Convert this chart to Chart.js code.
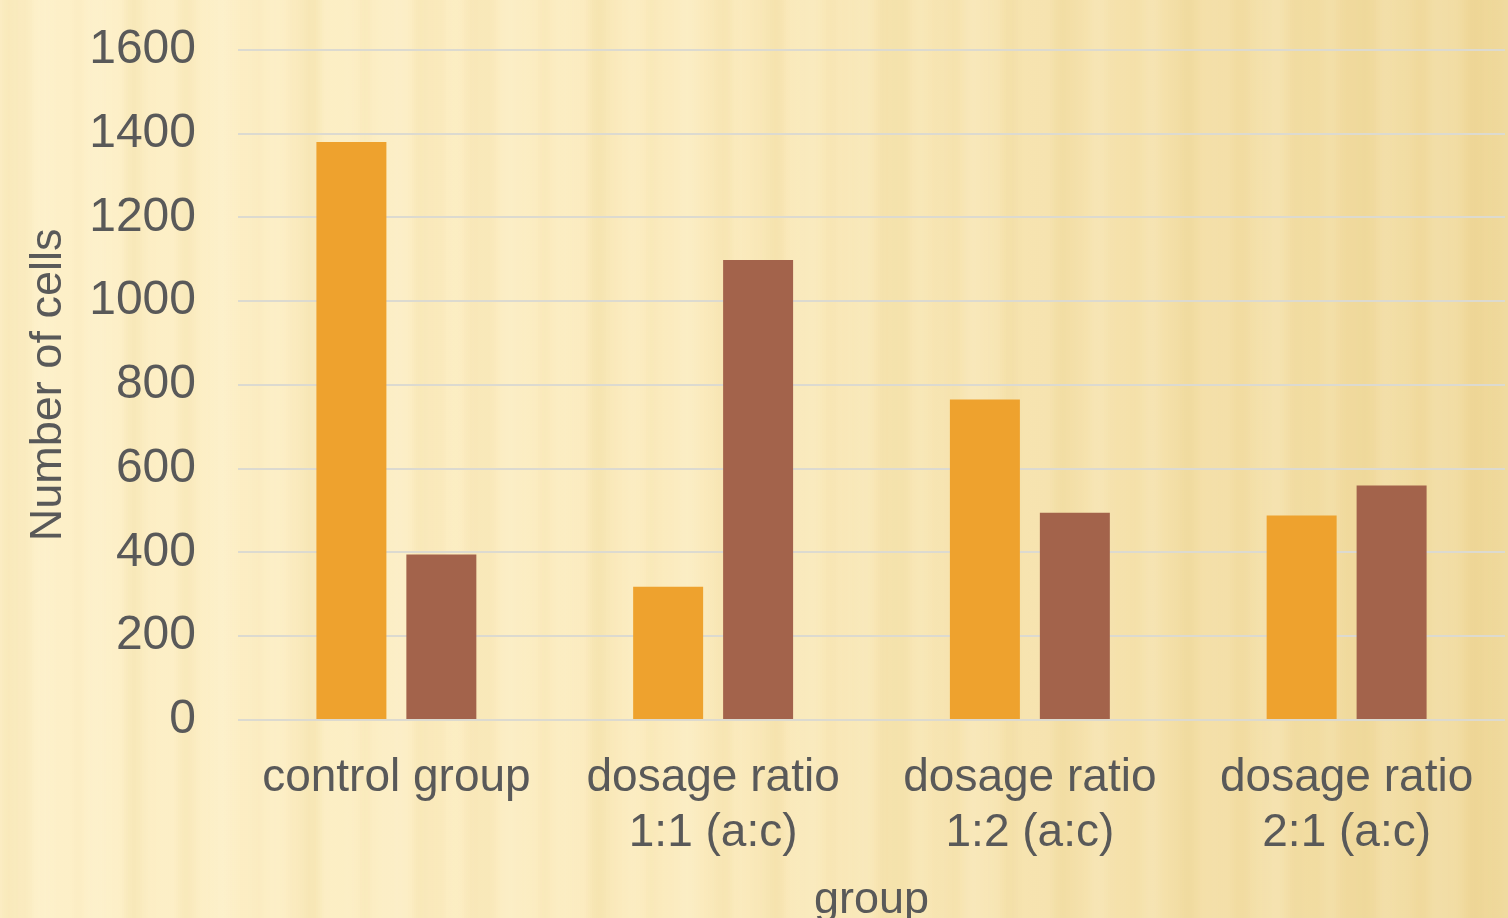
<!DOCTYPE html>
<html>
<head>
<meta charset="utf-8">
<script src="https://cdn.jsdelivr.net/npm/chart.js@4.4.1/dist/chart.umd.min.js"></script>
<style>
  html, body { margin: 0; padding: 0; background: #f8e8b8; }
  #wrap { width: 1508px; height: 918px; overflow: hidden; position: relative; }
  canvas { display: block; margin-top: -21px; }
</style>
</head>
<body>
<div id="wrap"><canvas id="chart" width="1508" height="949"></canvas></div>
<script>
// Chart data
const groups = [
  'control group',
  ['dosage ratio', '1:1 (a:c)'],
  ['dosage ratio', '1:2 (a:c)'],
  ['dosage ratio', '2:1 (a:c)']
];
const seriesA = [1380, 318, 765, 488];
const seriesB = [395, 1098, 495, 560];
const yTicks = [0, 200, 400, 600, 800, 1000, 1200, 1400, 1600];

const textColor = '#595959';
const fontFamily = "'Liberation Sans', Arial, sans-serif";

// Striped paper background
const stripedBackground = {
  id: 'stripedBackground',
  beforeDraw(chart) {
    const ctx = chart.ctx;
    const w = chart.width, h = chart.height;
    ctx.save();
    const base = ctx.createLinearGradient(0, 0, w, 0);
    base.addColorStop(0, '#fdf0c9');
    base.addColorStop(0.45, '#fbebbe');
    base.addColorStop(1, '#f0d99c');
    ctx.fillStyle = base;
    ctx.fillRect(0, 0, w, h);
    for (let x = 0; x < w; x += 2) {
      const s = Math.sin(x / 9.3) * 0.5 + Math.sin(x / 23.7 + 1.3) * 0.35 + Math.sin(x / 4.1 + 0.7) * 0.15;
      if (s > 0) {
        ctx.fillStyle = 'rgba(225, 196, 110, ' + (s * 0.18).toFixed(3) + ')';
      } else {
        ctx.fillStyle = 'rgba(255, 250, 225, ' + (-s * 0.2).toFixed(3) + ')';
      }
      ctx.fillRect(x, 0, 2, h);
    }
    ctx.restore();
  }
};

new Chart(document.getElementById('chart').getContext('2d'), {
  type: 'bar',
  data: {
    labels: groups,
    datasets: [
      {
        label: 'a',
        data: seriesA,
        backgroundColor: '#eea22e',
        categoryPercentage: 0.568,
        barPercentage: 0.778
      },
      {
        label: 'c',
        data: seriesB,
        backgroundColor: '#a3634b',
        categoryPercentage: 0.568,
        barPercentage: 0.778
      }
    ]
  },
  plugins: [stripedBackground],
  options: {
    responsive: false,
    animation: false,
    layout: { padding: { top: 28, right: 3, left: 22, bottom: 0 } },
    plugins: {
      legend: { display: false },
      tooltip: { enabled: false }
    },
    scales: {
      x: {
        afterFit(axis) {
          axis.height = 208;
        },
        grid: { display: false, drawTicks: false },
        border: { display: false },
        ticks: {
          color: textColor,
          font: { family: fontFamily, size: 46 },
          padding: 31,
          maxRotation: 0,
          autoSkip: false
        },
        title: {
          display: true,
          text: 'group',
          color: textColor,
          font: { family: fontFamily, size: 45 },
          padding: { top: 0, bottom: 0 }
        }
      },
      y: {
        min: 0,
        max: 1600,
        afterBuildTicks(axis) {
          axis.ticks = yTicks.map(v => ({ value: v }));
        },
        afterFit(axis) {
          axis.width = 216;
        },
        grid: { color: '#dcdad0', lineWidth: 2, drawTicks: false },
        border: { display: false },
        ticks: {
          color: textColor,
          font: { family: fontFamily, size: 48 },
          padding: 42,
          callback: v => String(v)
        },
        title: {
          display: true,
          text: 'Number of cells',
          color: textColor,
          font: { family: fontFamily, size: 45 },
          padding: { top: 0, bottom: 0 }
        }
      }
    }
  }
});
</script>
</body>
</html>
